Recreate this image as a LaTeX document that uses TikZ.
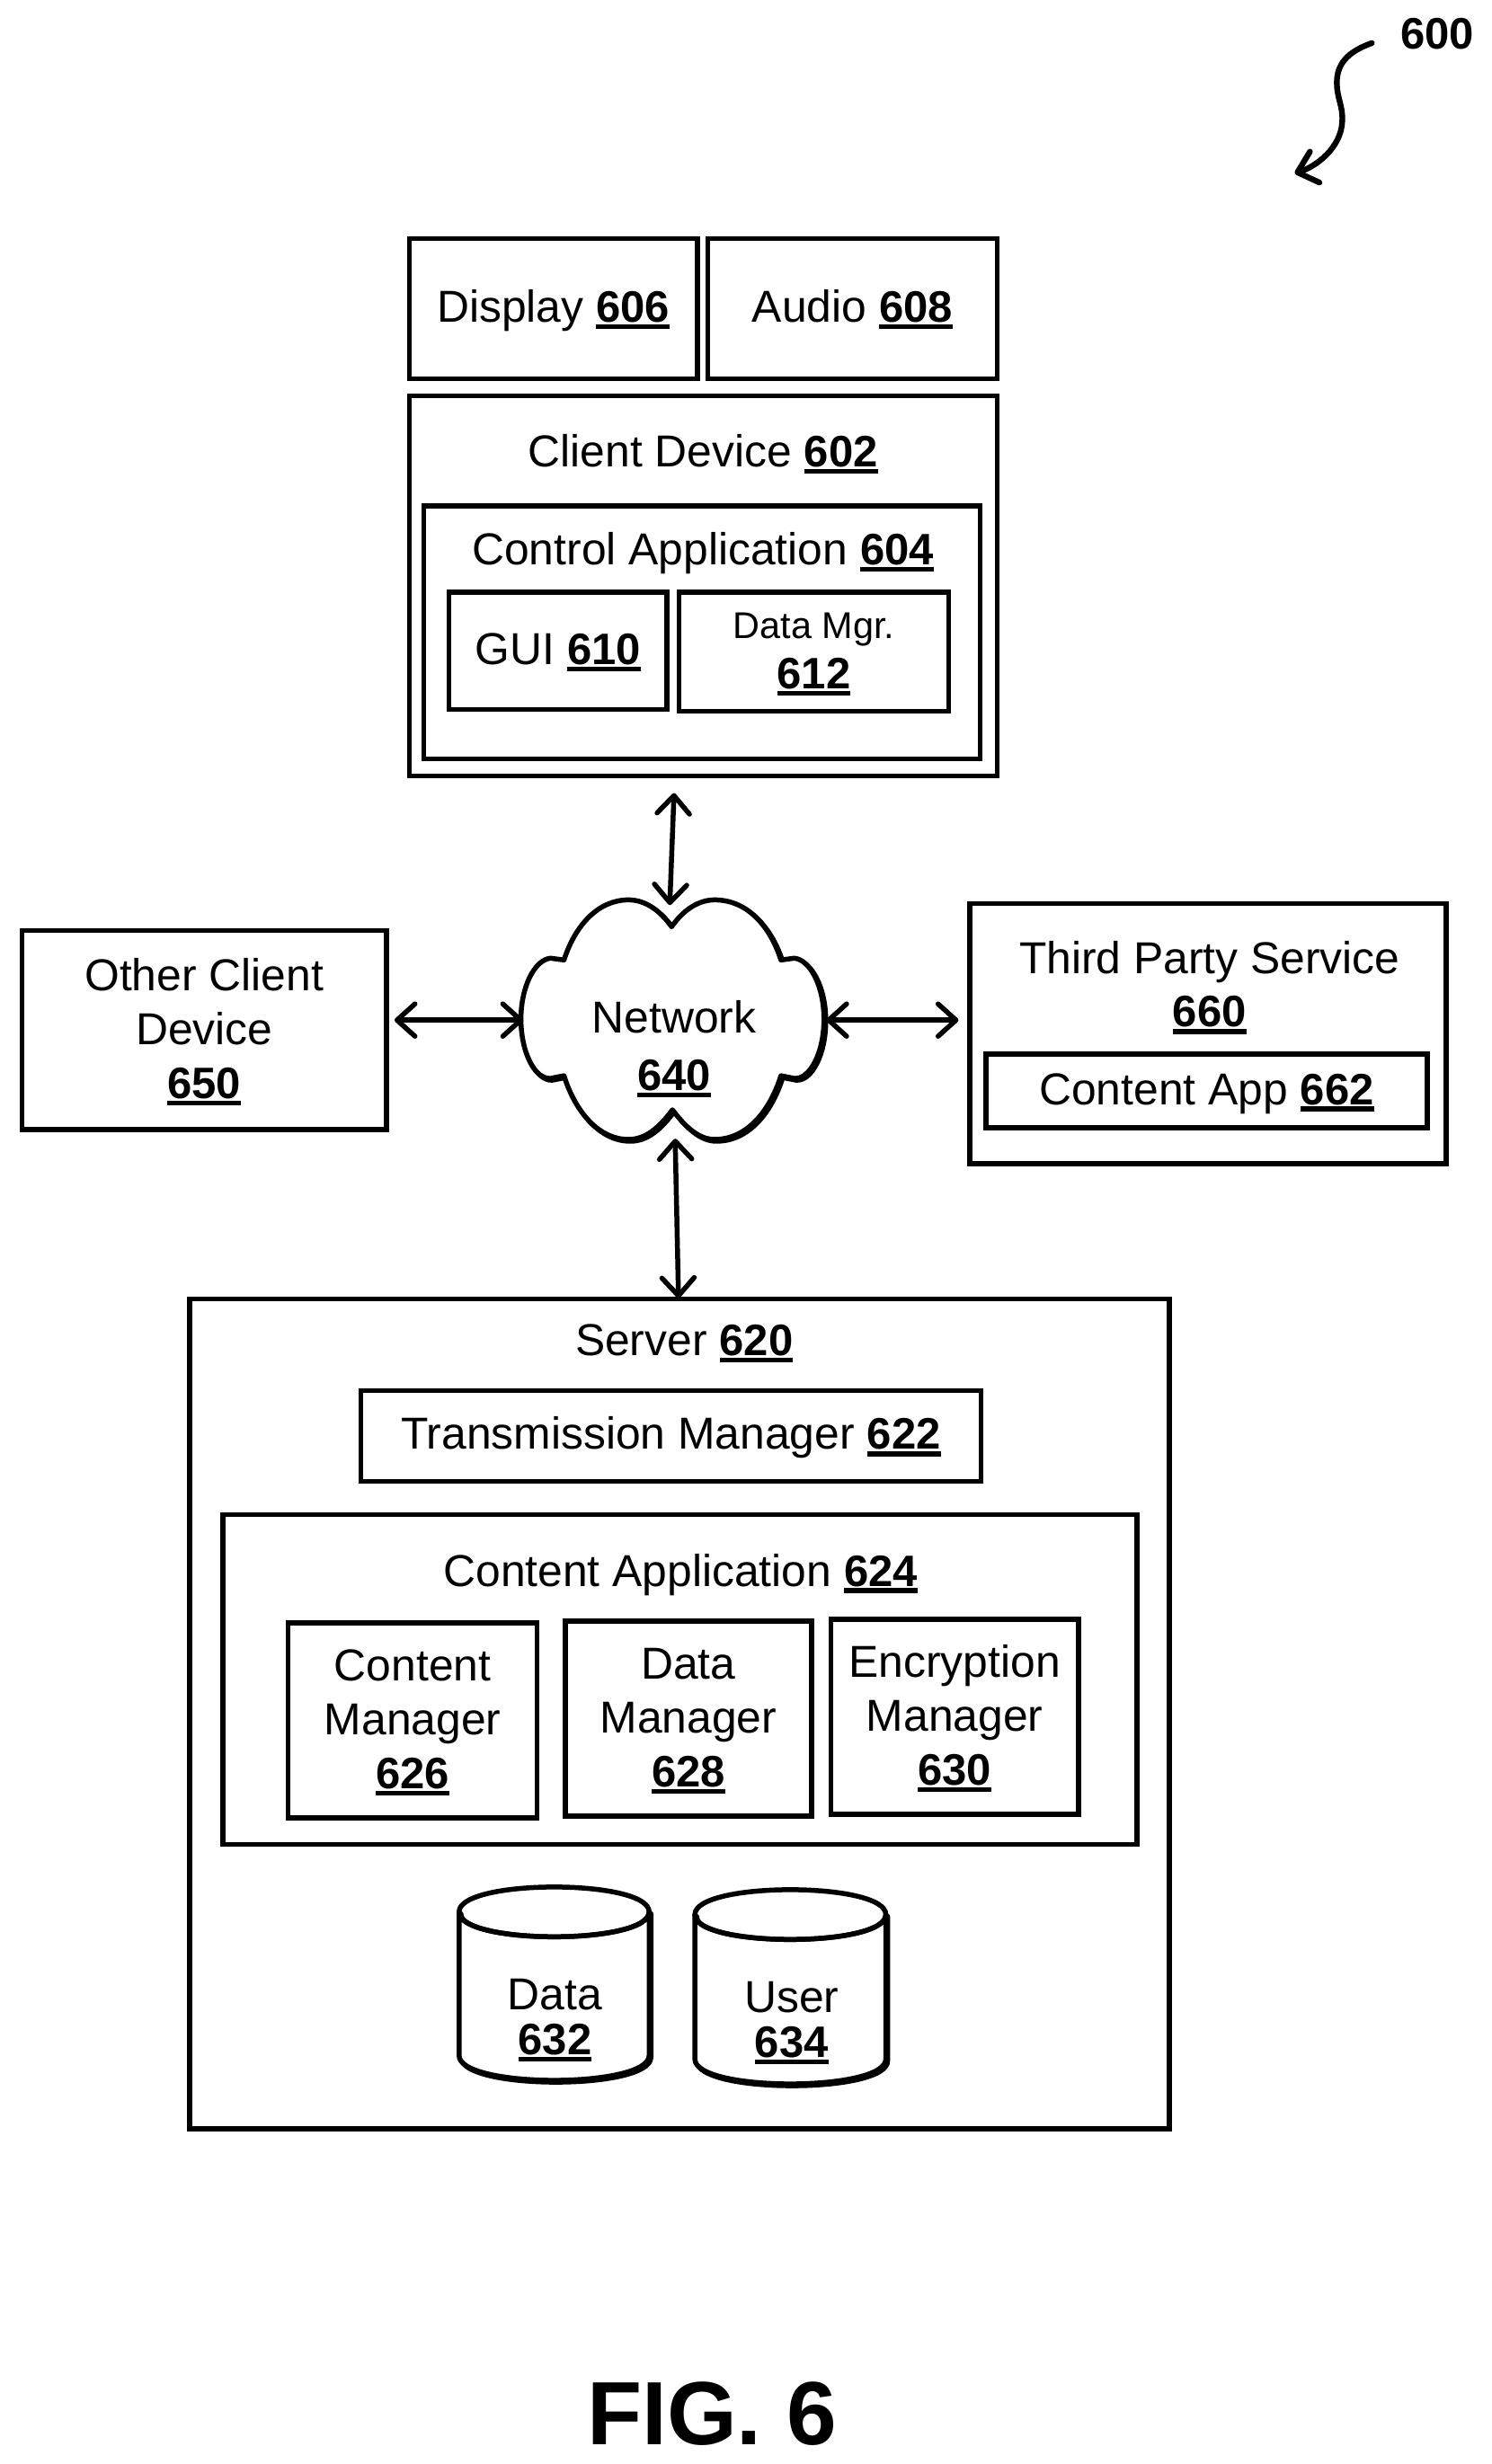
\documentclass[tikz,border=0pt]{standalone}
\usepackage{fontspec}
\setmainfont{Liberation Sans}
\usetikzlibrary{arrows.meta}
\newcommand\num[1]{\setbox0=\hbox{\fontsize{24.5}{30}\selectfont\bfseries #1}\rlap{\copy0}\rule[-3.8pt]{\wd0}{2.6pt}}
\newcommand\one{\rule[-5.5pt]{0pt}{26pt}}
\newcommand\st{\rule{0pt}{20pt}}
\newcommand\bx[7][]{\node[box,minimum width={(#5-#3-1.5)*0.4988pt},minimum height={(#6-#4)*0.4992pt},#1] (#2) at ({(#3+1.5+#5)/2},{(#4+#6)/2}) {#7};}
\newcommand\cloudshape{(749,1033) .. controls (735,1013) and (718,1003) .. (701,1003)
 .. controls (668,1003) and (642,1030) .. (629,1070)
 -- (614,1068) .. controls (596,1070) and (581,1100) .. (581,1136)
 .. controls (581,1172) and (596,1203) .. (614,1202) -- (629,1199)
 .. controls (642,1240) and (668,1270) .. (701,1270)
 .. controls (720,1270) and (735,1257) .. (750,1237)
 .. controls (765,1257) and (780,1270) .. (797,1270)
 .. controls (832,1270) and (858,1240) .. (871,1199)
 -- (886,1202) .. controls (904,1203) and (919,1172) .. (919,1136)
 .. controls (919,1100) and (904,1070) .. (886,1068)
 -- (871,1070) .. controls (858,1030) and (832,1003) .. (797,1003)
 .. controls (780,1003) and (763,1013) .. (749,1033) -- cycle}
% x1, y1 (top of the rim), x2, y2 (bottom)
\newcommand\drum[4]{%
 \foreach \s/\f in {2/black,0/white}{
  \path[xshift=\s*0.5pt,yshift=-\s*0.5pt,draw=black,fill=\f,line width=2.75pt,line join=round]
   (#1,{#2+28}) .. controls (#1,{#2+65}) and (#3,{#2+65}) .. (#3,{#2+28})
   -- (#3,{#4-28}) .. controls (#3,{#4+9}) and (#1,{#4+9}) .. (#1,{#4-28}) -- cycle;
 }
 \draw[line width=2.75pt,line join=round] (#1,{#2+28}) .. controls (#1,{#2-9}) and (#3,{#2-9}) .. (#3,{#2+28})
   .. controls (#3,{#2+65}) and (#1,{#2+65}) .. (#1,{#2+28}) -- cycle;
}
\tikzset{
 box/.style={draw=black,line width=2.75pt,inner sep=0pt,outer sep=0pt,align=center,line join=miter,
   font=\fontsize{24.9}{30}\selectfont},
 lbl/.style={inner sep=0pt,outer sep=0pt,align=center,font=\fontsize{24.9}{30}\selectfont},
 drumlbl/.style={lbl,font=\fontsize{24.9}{25}\selectfont},
 link/.style={line width=2.75pt,line cap=round,line join=round,
   {Straight Barb[length=10pt,width=18pt,line cap=round,line join=round]}-{Straight Barb[length=10pt,width=18pt,line cap=round,line join=round]}},
 pointer/.style={line width=3.2pt,line cap=round,line join=round,
   -{Straight Barb[length=10pt,width=18pt,line cap=round,line join=round]}},
}
\begin{document}
\begin{tikzpicture}[x=0.4988pt,y=-0.4992pt]
\useasboundingbox (0,0) rectangle (1664,2746.4);

% reference numeral
\node[lbl,font=\fontsize{24.5}{30}\selectfont\bfseries] (ref600) at (1603,38) {600};
\coordinate (sqstart) at (1530,48);
\coordinate (sqend) at (1444,193);
\draw[pointer] (sqstart) .. controls (1502,58) and (1491,72) .. (1491,92)
  .. controls (1491,110) and (1498,118) .. (1497,135)
  .. controls (1496,165) and (1467,186) .. (sqend);

% client side
\bx{display}{455}{266}{778}{422}{\one Display \num{606}}
\bx{audio}{788}{266}{1112}{422}{\one Audio \num{608}}
\bx{client}{455}{441}{1112}{865}{}
\node[lbl] (clienttxt) at (784,506) {Client Device \num{602}};
\bx{control}{471}{564}{1093}{846}{}
\node[lbl] (controltxt) at (784,617) {Control Application \num{604}};
\bx{gui}{499}{660}{744}{791}{\one GUI \num{610}}
\bx[font=\fontsize{24.9}{28}\selectfont]{datamgr}{756}{660}{1058}{793}{{\rule{0pt}{17pt}\fontsize{20.7}{28}\selectfont Data Mgr.}\\\num{612}}

% other client
\bx{other}{23}{1037}{431}{1259}{\st Other Client\\Device\\\num{650}}

% third party
\bx{third}{1080}{1007}{1613}{1297}{}
\node[lbl,font=\fontsize{24.9}{29.5}\selectfont] (thirdtxt) at (1349,1101) {Third Party Service\\\num{660}};
\bx{capp}{1098}{1175}{1592}{1257}{\one Content App \num{662}}

% network cloud
\draw[line width=2.75pt,line join=round,fill=black,xshift=1pt,yshift=-1pt] \cloudshape;
\draw[line width=2.75pt,line join=round,fill=white] \cloudshape;
\node[inner sep=0pt,outer sep=0pt,minimum width=169pt,minimum height=133.5pt] (cloud) at (750,1136.5) {};
\node[lbl,font=\fontsize{24.9}{32}\selectfont] (nettxt) at (752,1169) {Network\\\num{640}};

% server
\bx{server}{210}{1448}{1304}{2373}{}
\node[lbl] (servertxt) at (763,1497) {Server \num{620}};
\bx{trans}{401}{1550}{1094}{1651}{\one Transmission Manager \num{622}}
\bx{contentapp}{247}{1688}{1268}{2056}{}
\node[lbl] (contentapptxt) at (759,1755) {Content Application \num{624}};
\bx{cmgr}{320}{1809}{599}{2026}{\st Content\\Manager\\\num{626}}
\bx{dmgr}{629}{1807}{905}{2024}{\st Data\\Manager\\\num{628}}
\bx{emgr}{925}{1805}{1203}{2022}{\st Encryption\\Manager\\\num{630}}

% data stores
\drum{512}{2103}{724}{2319}
\node[drumlbl] (datatxt) at (619,2252) {Data\\\num{632}};
\drum{775}{2106}{988}{2323}
\node[drumlbl] (usertxt) at (883,2255) {User\\\num{634}};

% connectors
\draw[link] ([shift={(-32.5,19)}]client.south) -- ([shift={(-3,6)}]cloud.north);
\draw[link] ([shift={(9,-11)}]other.east) -- ([shift={(3,0.5)}]cloud.west);
\draw[link] ([shift={(2,0.5)}]cloud.east) -- ([shift={(-12.5,-15)}]third.west);
\draw[link] ([shift={(3,-1)}]cloud.south) -- ([shift={(-1,-1)}]server.north);

% figure label
\node[lbl,font=\fontsize{50}{60}\selectfont\bfseries] (fig) at (794,2690) {FIG. 6};
\end{tikzpicture}
\end{document}
